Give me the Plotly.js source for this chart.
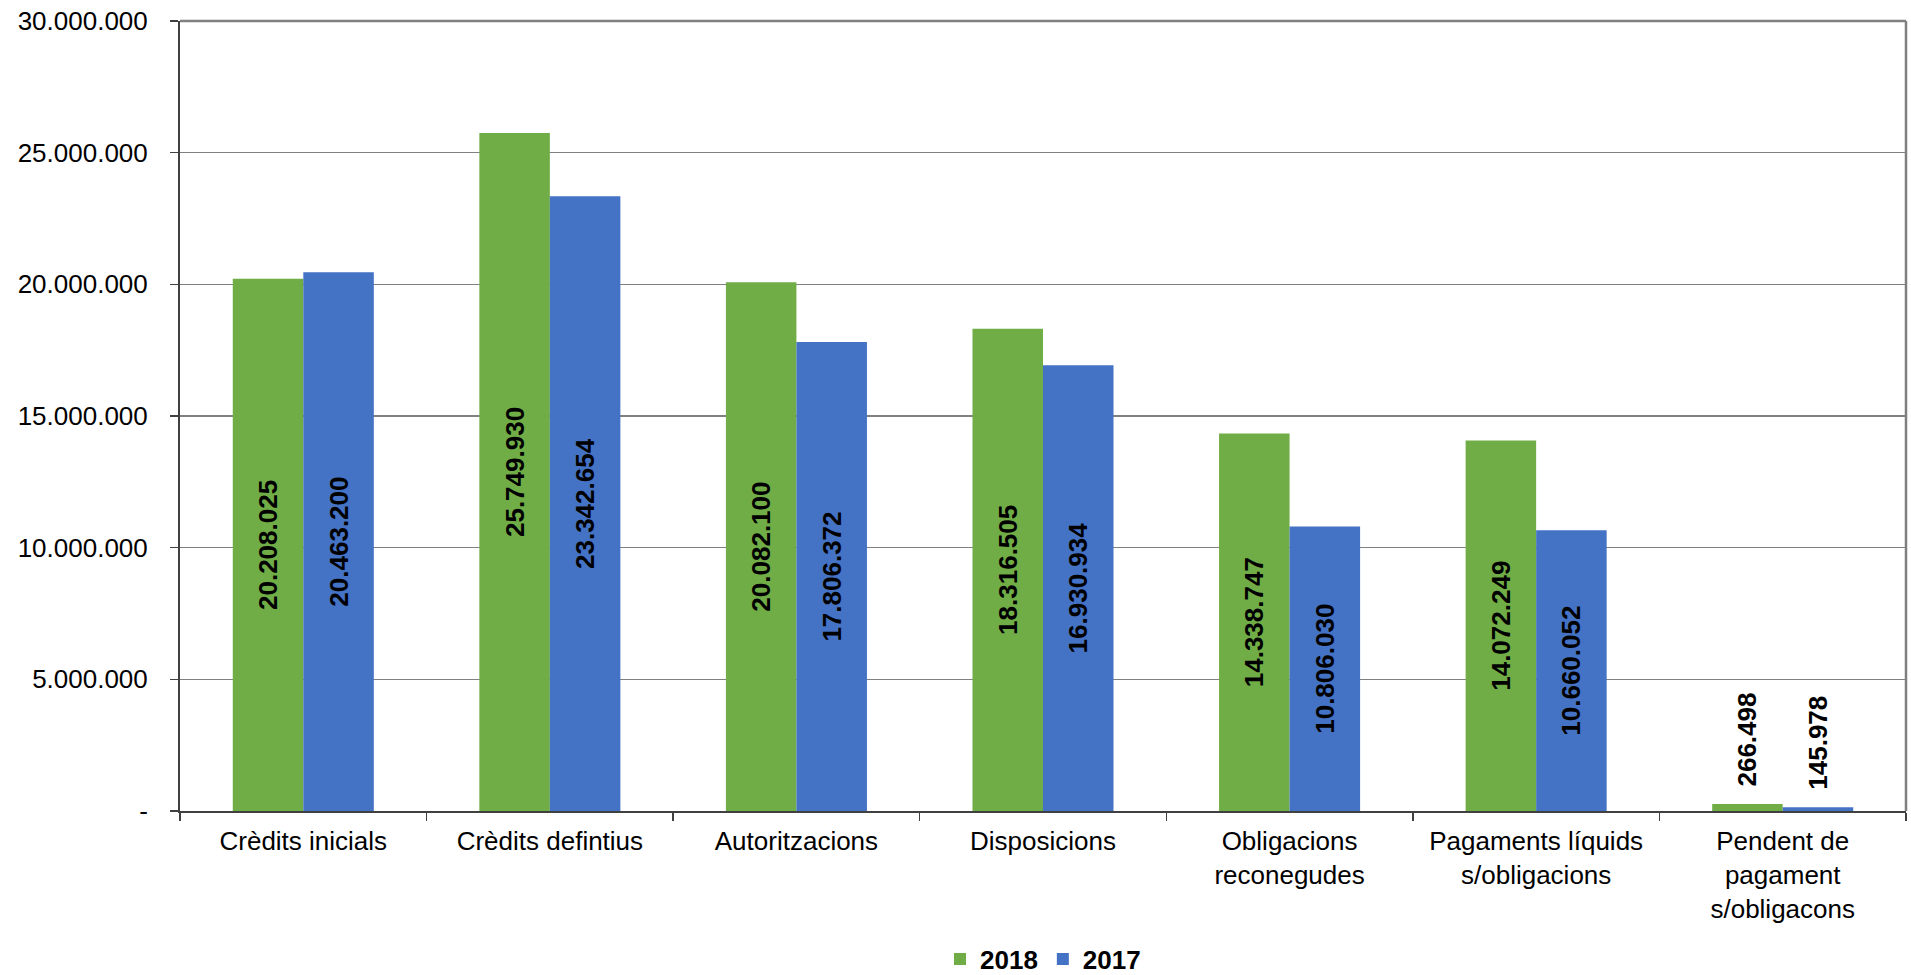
<!DOCTYPE html>
<html>
<head>
<meta charset="utf-8">
<script src="https://cdn.plot.ly/plotly-3.0.1.min.js"></script>
<style>
html,body{margin:0;padding:0;background:#fff;}
#chart{width:1911px;height:975px;}
</style>
</head>
<body>
<div id="chart"></div>
<script>
var categories = [
  "Crèdits inicials",
  "Crèdits defintius",
  "Autoritzacions",
  "Disposicions",
  "Obligacions<br>reconegudes",
  "Pagaments líquids<br>s/obligacions",
  "Pendent de<br>pagament<br>s/obligacons"
];
var values2018 = [20208025, 25749930, 20082100, 18316505, 14338747, 14072249, 266498];
var values2017 = [20463200, 23342654, 17806372, 16930934, 10806030, 10660052, 145978];
var yTickVals = [0, 5000000, 10000000, 15000000, 20000000, 25000000, 30000000];
var yTickText = ["-", "5.000.000", "10.000.000", "15.000.000", "20.000.000", "25.000.000", "30.000.000"];
var textPos = ["inside", "inside", "inside", "inside", "inside", "inside", "outside"];

var FONT = "Liberation Sans, Arial, sans-serif";
var labelFont = {family: FONT, size: 26, color: "#000", weight: "bold"};

function barTrace(name, vals, color) {
  return {
    type: "bar",
    name: "<b>" + name + "</b>",
    x: categories,
    y: vals,
    marker: {color: color},
    texttemplate: textPos.map(function (p) {
      return p === "outside" ? "<b>\u00a0\u00a0%{y:,.0f}</b>" : "<b>%{y:,.0f}</b>";
    }),
    textposition: textPos,
    textangle: -90,
    insidetextanchor: "middle",
    constraintext: "none",
    cliponaxis: false,
    textfont: labelFont,
    insidetextfont: labelFont,
    outsidetextfont: labelFont,
    hoverinfo: "skip"
  };
}

var data = [
  barTrace("2018", values2018, "#70AD47"),
  barTrace("2017", values2017, "#4472C4")
];

var layout = {
  width: 1911,
  height: 975,
  margin: {l: 180, r: 5, t: 21, b: 164, pad: 0},
  paper_bgcolor: "#fff",
  plot_bgcolor: "#fff",
  separators: ",.",
  font: {family: FONT, size: 26, color: "#000"},
  barmode: "group",
  bargap: 0.428,
  bargroupgap: 0,
  showlegend: true,
  legend: {
    orientation: "h",
    xref: "paper",
    yref: "container",
    x: 0.5, xanchor: "center",
    y: 0.0164, yanchor: "middle",
    font: {family: FONT, size: 26, color: "#000"},
    itemwidth: 30,
    traceorder: "normal"
  },
  xaxis: {
    type: "category",
    showline: true,
    linecolor: "#404040",
    linewidth: 2,
    ticks: "outside",
    tickson: "boundaries",
    ticklen: 8,
    tickcolor: "#404040",
    tickwidth: 1.5,
    showgrid: false,
    tickfont: {family: FONT, size: 26, color: "#000"},
    ticklabelstandoff: 6,
    fixedrange: true
  },
  yaxis: {
    range: [0, 30000000],
    tickvals: yTickVals,
    ticktext: yTickText,
    showline: true,
    linecolor: "#404040",
    linewidth: 2,
    ticks: "outside",
    ticklen: 8,
    tickcolor: "#404040",
    tickwidth: 1.5,
    showgrid: true,
    gridcolor: "#808080",
    gridwidth: 1.2,
    zeroline: false,
    tickfont: {family: FONT, size: 26, color: "#000"},
    ticklabelstandoff: 17,
    fixedrange: true
  },
  shapes: [
    {type: "line", xref: "paper", yref: "paper", x0: 0, x1: 1, y0: 1, y1: 1,
     line: {color: "#808080", width: 2.5}},
    {type: "line", xref: "paper", yref: "paper", x0: 1, x1: 1, y0: 0, y1: 1,
     line: {color: "#808080", width: 2.5}}
  ]
};

Plotly.newPlot("chart", data, layout, {displayModeBar: false, staticPlot: true});
</script>
</body>
</html>
